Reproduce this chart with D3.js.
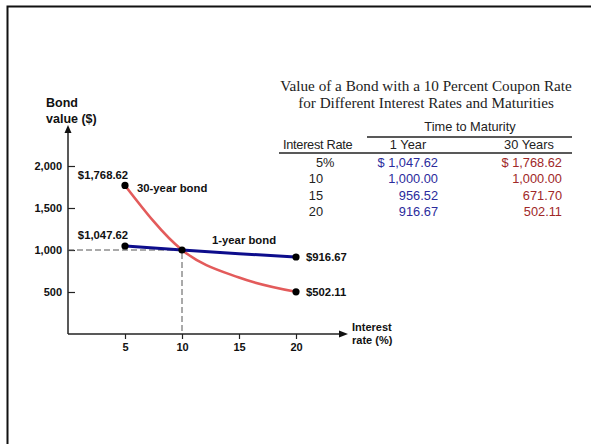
<!DOCTYPE html>
<html><head><meta charset="utf-8">
<script src="https://cdn.jsdelivr.net/npm/d3@7"></script>
<style>
html,body{margin:0;padding:0;background:#fff;}
svg{display:block;}
</style></head>
<body>
<svg id="chart" width="591" height="444" font-family="Arial, 'Liberation Sans', sans-serif"></svg>
<script>
// ---- data ----
const rates = [5, 10, 15, 20];
const oneYear = [1047.62, 1000.00, 956.52, 916.67];
const thirtyYear = [1768.62, 1000.00, 671.70, 502.11];
const markedRates = [5, 10, 20];
const xTicks = [5, 10, 15, 20];
const yTicks = [500, 1000, 1500, 2000];
const tableRateLabels = ["5", "10", "15", "20"];
const tableOneYear = ["$ 1,047.62", "1,000.00", "956.52", "916.67"];
const tableThirtyYear = ["$ 1,768.62", "1,000.00", "671.70", "502.11"];
const titleLines = ["Value of a Bond with a 10 Percent Coupon Rate", "for Different Interest Rates and Maturities"];

const svg = d3.select("#chart");
const SANS = "Arial, 'Liberation Sans', sans-serif";
const blue = "#0d0d8c", red = "#e35b5b";
const tBlue = "#2b2b9c", tRed = "#a02828";

// frame
svg.append("path").attr("d", "M7.5,444 L7.5,6.5 L591,6.5").attr("fill", "none").attr("stroke", "#111").attr("stroke-width", 2);

const x = d3.scaleLinear().domain([0, 20]).range([68, 296]);
const y = d3.scaleLinear().domain([0, 2000]).range([334, 166]);

// axes
const gx = svg.append("g").attr("transform", `translate(0,${y(0)})`)
  .call(d3.axisBottom(x).tickValues(xTicks).tickSize(5).tickPadding(4).tickFormat(d3.format("d")));
const gy = svg.append("g").attr("transform", `translate(${x(0)},0)`)
  .call(d3.axisLeft(y).tickValues(yTicks).tickSizeInner(-7).tickSizeOuter(0).tickPadding(6).tickFormat(d3.format(",")));
[gx, gy].forEach(g => {
  g.attr("font-family", SANS).attr("font-size", 11);
  g.select(".domain").remove();
  g.selectAll("line").attr("stroke", "#222").attr("stroke-width", 1.2);
  g.selectAll("text").attr("font-weight", "bold").attr("fill", "#111");
});

// axis lines with arrows
svg.append("line").attr("x1", x(0)).attr("y1", y(0)).attr("x2", 340).attr("y2", y(0)).attr("stroke", "#222").attr("stroke-width", 1.5);
svg.append("path").attr("d", `M348,${y(0)} L339,${y(0) - 3.5} L339,${y(0) + 3.5} Z`).attr("fill", "#111");
svg.append("line").attr("x1", x(0)).attr("y1", y(0)).attr("x2", x(0)).attr("y2", 132).attr("stroke", "#222").attr("stroke-width", 1.5);
svg.append("path").attr("d", `M${x(0)},125 L${x(0) - 3.5},133 L${x(0) + 3.5},133 Z`).attr("fill", "#111");

// dashed reference lines at par
svg.append("path")
  .attr("d", `M${x(0)},${y(1000)} L${x(10)},${y(1000)} L${x(10)},${y(0)}`)
  .attr("fill", "none").attr("stroke", "#555").attr("stroke-width", 1).attr("stroke-dasharray", "6,3");

// curves
const line = d3.line().x(d => x(d[0])).y(d => y(d[1])).curve(d3.curveMonotoneX);
svg.append("path").datum(rates.map((r, i) => [r, thirtyYear[i]]))
  .attr("d", line).attr("fill", "none").attr("stroke", red).attr("stroke-width", 2.6);
svg.append("path").datum(rates.map((r, i) => [r, oneYear[i]]))
  .attr("d", line).attr("fill", "none").attr("stroke", blue).attr("stroke-width", 3);

// dots
const dots = [];
markedRates.forEach(r => {
  const i = rates.indexOf(r);
  dots.push([r, oneYear[i]]);
  if (thirtyYear[i] !== oneYear[i]) dots.push([r, thirtyYear[i]]);
});
svg.selectAll("circle.pt").data(dots).enter().append("circle")
  .attr("cx", d => x(d[0])).attr("cy", d => y(d[1])).attr("r", 3.6).attr("fill", "#000");

// point labels
const fmt = d3.format(",.2f");
const lab = (txt, xx, yy, anchor) => svg.append("text").text(txt).attr("x", xx).attr("y", yy)
  .attr("font-size", 11.3).attr("font-weight", "bold").attr("fill", "#111").attr("text-anchor", anchor || "start");
lab("$" + fmt(thirtyYear[0]), x(5) - 22, y(thirtyYear[0]) - 6, "middle");
lab("$" + fmt(oneYear[0]), x(5) - 22, y(oneYear[0]) - 7, "middle");
lab("30-year bond", 137, 192);
lab("1-year bond", 212, 244);
lab("$" + fmt(oneYear[3]), x(20) + 10, y(oneYear[3]) + 4);
lab("$" + fmt(thirtyYear[3]), x(20) + 10, y(thirtyYear[3]) + 4);

// axis titles
const yt = svg.append("text").attr("x", 46).attr("y", 107).attr("font-size", 12.5).attr("font-weight", "bold").attr("fill", "#111");
yt.append("tspan").attr("x", 46).text("Bond");
yt.append("tspan").attr("x", 46).attr("dy", 15.5).text("value ($)");
const xt = svg.append("text").attr("x", 352).attr("y", 331).attr("font-size", 11).attr("font-weight", "bold").attr("fill", "#111");
xt.append("tspan").attr("x", 352).text("Interest");
xt.append("tspan").attr("x", 352).attr("dy", 12.5).text("rate (%)");

// title
titleLines.forEach((t, i) => svg.append("text").text(t).attr("x", 426).attr("y", 91 + i * 16.5)
  .attr("text-anchor", "middle").attr("font-family", "'Liberation Serif','Times New Roman',serif")
  .attr("font-size", 15.2).attr("fill", "#222"));

// table
const tf = 12.8;
svg.append("text").text("Time to Maturity").attr("x", 470).attr("y", 131).attr("text-anchor", "middle").attr("font-size", tf).attr("fill", "#222");
svg.append("line").attr("x1", 367).attr("x2", 572).attr("y1", 137).attr("y2", 137).attr("stroke", "#222").attr("stroke-width", 1.4);
svg.append("text").text("Interest Rate").attr("x", 283).attr("y", 149).attr("font-size", tf).attr("fill", "#222").attr("letter-spacing", -0.3);
svg.append("text").text("1 Year").attr("x", 408).attr("y", 149).attr("text-anchor", "middle").attr("font-size", tf).attr("fill", "#222");
svg.append("text").text("30 Years").attr("x", 529).attr("y", 149).attr("text-anchor", "middle").attr("font-size", tf).attr("fill", "#222");
svg.append("line").attr("x1", 279).attr("x2", 572).attr("y1", 153).attr("y2", 153).attr("stroke", "#222").attr("stroke-width", 1.4);

tableRateLabels.forEach((r, i) => {
  const yy = 166.5 + i * 16.6;
  svg.append("text").text(r).attr("x", 323).attr("y", yy).attr("text-anchor", "end").attr("font-size", tf).attr("fill", "#222");
  if (i === 0) svg.append("text").text("%").attr("x", 323).attr("y", yy).attr("font-size", tf).attr("fill", "#222");
  svg.append("text").text(tableOneYear[i]).attr("x", 438).attr("y", yy).attr("text-anchor", "end").attr("font-size", tf).attr("fill", tBlue);
  svg.append("text").text(tableThirtyYear[i]).attr("x", 562).attr("y", yy).attr("text-anchor", "end").attr("font-size", tf).attr("fill", tRed);
});
</script>
</body></html>
